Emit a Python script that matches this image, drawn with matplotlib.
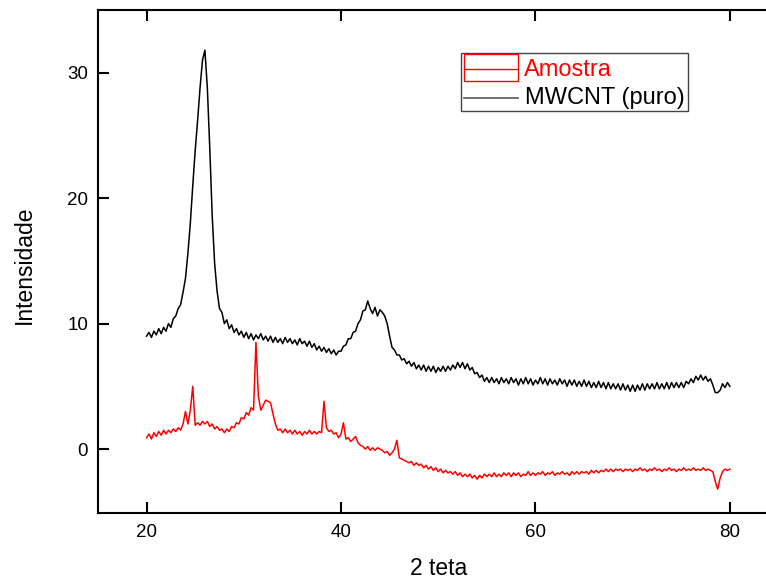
"""XRD comparison chart: Amostra vs. MWCNT (puro), saved to out.png."""

import matplotlib

matplotlib.use("Agg")
import matplotlib.pyplot as plt
import numpy as np
from matplotlib.patches import Rectangle

# ── Data (2θ grid from 20° to 80°, step 0.25°) ────────────────────────────────
two_theta = np.arange(20.0, 80.001, 0.25)

mwcnt = [
    9.0, 9.3, 8.9, 9.4, 9.1, 9.6, 9.2, 9.7,
    9.4, 10.0, 9.7, 10.4, 10.6, 11.2, 11.5, 12.5,
    13.6, 15.6, 18.0, 21.0, 23.8, 26.2, 28.8, 31.0,
    31.8, 28.8, 24.0, 18.6, 14.8, 12.6, 11.2, 10.9,
    10.0, 10.3, 9.6, 9.9, 9.3, 9.6, 9.1, 9.4,
    8.9, 9.3, 8.8, 9.2, 8.7, 9.1, 8.8, 9.2,
    8.7, 9.0, 8.6, 9.0, 8.5, 8.9, 8.5, 8.8,
    8.4, 8.9, 8.5, 8.8, 8.4, 8.7, 8.3, 8.8,
    8.4, 8.6, 8.2, 8.6, 8.1, 8.4, 7.9, 8.2,
    7.8, 8.1, 7.7, 8.0, 7.6, 7.9, 7.5, 7.8,
    7.8, 8.2, 8.3, 8.8, 8.8, 9.3, 9.4, 10.0,
    10.3, 11.0, 11.1, 11.8, 11.2, 10.8, 11.3, 10.6,
    11.1, 10.9, 10.6, 10.0, 9.0, 8.1, 7.9, 7.5,
    7.5, 7.1, 7.2, 6.8, 7.0, 6.6, 6.9, 6.4,
    6.7, 6.3, 6.7, 6.2, 6.6, 6.2, 6.6, 6.1,
    6.5, 6.2, 6.6, 6.2, 6.6, 6.3, 6.7, 6.4,
    6.9, 6.5, 6.9, 6.4, 6.8, 6.3, 6.5, 6.0,
    6.1, 5.7, 5.9, 5.4, 5.7, 5.3, 5.7, 5.3,
    5.6, 5.2, 5.7, 5.3, 5.6, 5.2, 5.7, 5.3,
    5.6, 5.1, 5.6, 5.2, 5.7, 5.2, 5.6, 5.1,
    5.5, 5.2, 5.7, 5.2, 5.6, 5.1, 5.6, 5.2,
    5.5, 5.1, 5.6, 5.2, 5.5, 5.0, 5.5, 5.1,
    5.5, 5.0, 5.4, 5.0, 5.5, 5.0, 5.4, 4.9,
    5.3, 4.9, 5.4, 4.9, 5.3, 4.8, 5.3, 4.8,
    5.2, 4.8, 5.2, 4.7, 5.2, 4.7, 5.1, 4.6,
    5.1, 4.6, 5.1, 4.7, 5.2, 4.7, 5.2, 4.8,
    5.2, 4.8, 5.3, 4.8, 5.2, 4.8, 5.3, 4.8,
    5.3, 4.9, 5.3, 4.9, 5.3, 4.9, 5.4, 5.2,
    5.6, 5.3, 5.8, 5.5, 5.9, 5.5, 5.8, 5.4,
    5.6, 5.1, 4.5, 4.5, 4.7, 5.2, 4.9, 5.3,
    5.0,
]

amostra = [
    0.9, 1.2, 0.8, 1.3, 1.0, 1.4, 1.1, 1.5,
    1.2, 1.5, 1.3, 1.6, 1.4, 1.7, 1.5, 2.0,
    3.0, 2.0, 3.1, 5.0, 1.9, 2.1, 1.9, 2.2,
    2.0, 2.2, 1.8, 2.0, 1.6, 1.8, 1.5, 1.6,
    1.3, 1.6, 1.4, 1.8, 1.7, 2.1, 2.0, 2.5,
    2.4, 2.9, 2.7, 3.3, 3.1, 8.5, 4.2, 3.1,
    3.5, 3.9, 3.8, 3.7, 2.8, 2.0, 1.5, 1.6,
    1.3, 1.6, 1.3, 1.5, 1.2, 1.5, 1.2, 1.4,
    1.1, 1.4, 1.2, 1.5, 1.2, 1.4, 1.2, 1.4,
    1.3, 3.8, 1.7, 1.4, 1.5, 1.2, 1.3, 0.9,
    1.2, 2.1, 0.8, 0.9, 0.6, 0.8, 1.0, 0.5,
    0.3, 0.2, 0.0, 0.2, -0.1, 0.1, -0.1, 0.1,
    0.0, -0.1, -0.3, -0.2, -0.5, -0.3, 0.0, 0.7,
    -0.7, -0.8, -0.9, -1.0, -1.1, -1.0, -1.3, -1.1,
    -1.3, -1.2, -1.5, -1.3, -1.6, -1.4, -1.7, -1.5,
    -1.8, -1.6, -1.9, -1.7, -1.9, -1.8, -2.0, -1.8,
    -2.1, -1.9, -2.2, -2.0, -2.2, -2.0, -2.3, -2.1,
    -2.4, -2.1, -2.3, -2.0, -2.2, -2.0, -2.2, -1.9,
    -2.2, -2.0, -2.2, -1.9, -2.1, -1.9, -2.2, -1.9,
    -2.1, -1.9, -2.2, -2.0, -2.1, -1.8, -2.1, -1.9,
    -2.1, -1.9, -2.0, -1.8, -2.1, -1.9, -2.0, -1.8,
    -2.1, -1.9, -2.0, -1.8, -2.0, -1.9, -2.1, -1.8,
    -2.0, -1.8, -2.0, -1.8, -1.9, -1.8, -2.0, -1.7,
    -1.9, -1.7, -1.9, -1.7, -1.8, -1.6, -1.8, -1.6,
    -1.8, -1.6, -1.7, -1.6, -1.8, -1.6, -1.7, -1.6,
    -1.8, -1.6, -1.7, -1.5, -1.7, -1.6, -1.8, -1.6,
    -1.7, -1.5, -1.7, -1.6, -1.8, -1.6, -1.7, -1.5,
    -1.7, -1.6, -1.8, -1.6, -1.7, -1.5, -1.7, -1.6,
    -1.7, -1.5, -1.7, -1.6, -1.7, -1.5, -1.7, -1.6,
    -1.7, -1.8, -2.6, -3.2, -2.3, -1.8, -1.6, -1.7,
    -1.6,
]

x_ticks = [20, 40, 60, 80]
y_ticks = [0, 10, 20, 30]

plt.rcParams["font.family"] = ["Liberation Sans", "DejaVu Sans"]

fig = plt.figure(figsize=(7.66, 5.8), dpi=100)
# right spine sits just past the image edge, as in the original export
ax = fig.add_axes([0.1279, 0.1155, 0.8884, 0.8672])

ax.plot(two_theta, amostra, color="#ff0000", lw=1.1)
ax.plot(two_theta, mwcnt, color="black", lw=1.1)

ax.set_xlim(15, 85)
ax.set_ylim(-5.1, 35.0)
ax.set_xticks(x_ticks)
ax.set_yticks(y_ticks)
for side in ax.spines.values():
    side.set_linewidth(1.5)
ax.tick_params(direction="in", length=8, width=1.5, labelsize=13.5,
               top=True, right=True)
ax.tick_params(axis="x", pad=8)
ax.tick_params(axis="y", pad=7)

ax.set_xlabel("2 teta", fontsize=16.5)
ax.set_ylabel("Intensidade", fontsize=16.5)
ax.xaxis.set_label_coords(0.5, -0.111)
ax.xaxis.label.set_va("center")
ax.yaxis.set_label_coords(-0.1087, 0.493)
ax.yaxis.label.set_va("center")

# ── Legend, drawn by hand to mimic the Origin style ──────────────────────────
tr = ax.transAxes
ax.add_patch(Rectangle((0.533, 0.7992), 0.3344, 0.1147, transform=tr,
                       facecolor="white", edgecolor="#444444", lw=1.0, zorder=5))
ax.add_patch(Rectangle((0.5385, 0.8588), 0.0783, 0.0531, transform=tr,
                       facecolor="none", edgecolor="#ff0000", lw=1.0, zorder=6))
ax.plot([0.5385, 0.6168], [0.8827, 0.8827], transform=tr, color="#ff0000",
        lw=1.0, zorder=6)
ax.plot([0.5385, 0.6168], [0.8256, 0.8256], transform=tr, color="#666666",
        lw=1.3, zorder=6)
ax.text(0.626, 0.8688, "Amostra", transform=tr, color="#ff0000", fontsize=17,
        va="baseline", ha="left", zorder=7)
ax.text(0.6275, 0.8125, "MWCNT (puro)", transform=tr, color="black",
        fontsize=17, va="baseline", ha="left", zorder=7)

fig.savefig("out.png", dpi=100)
plt.close(fig)
